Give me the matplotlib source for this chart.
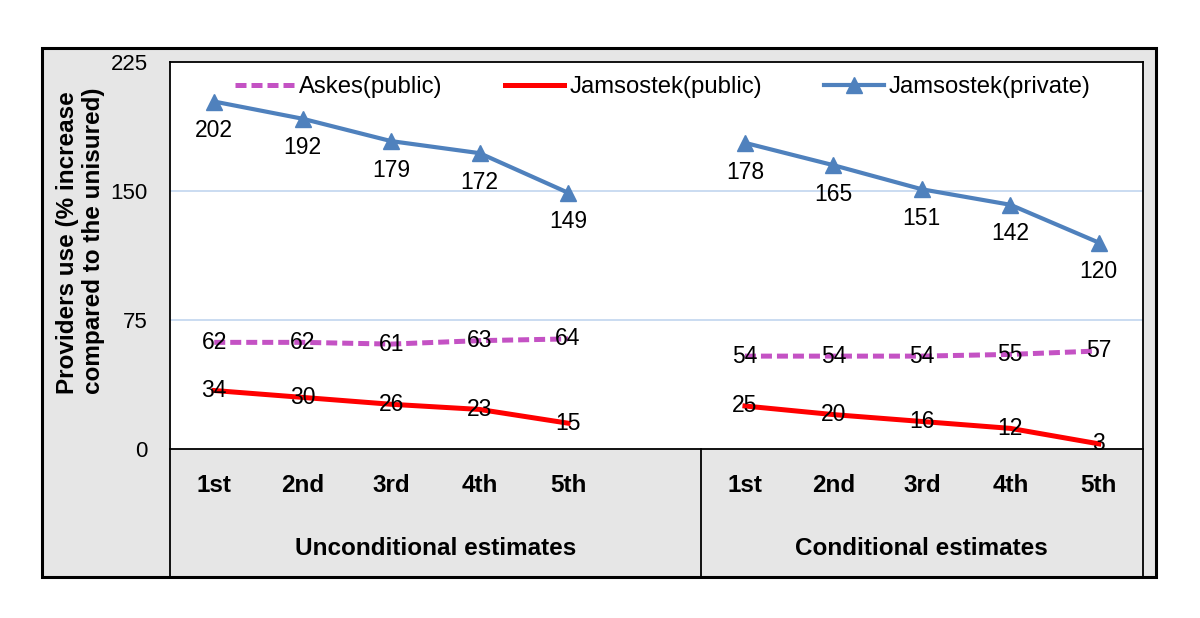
import matplotlib.pyplot as plt
from matplotlib.patches import Rectangle
from matplotlib.lines import Line2D
import matplotlib.transforms as mtransforms

plt.rcParams['font.family'] = ['Liberation Sans', 'DejaVu Sans']

# data (index 5 is the empty gap between the two groups)
quintiles = ['1st', '2nd', '3rd', '4th', '5th']
groups = ['Unconditional estimates', 'Conditional estimates']
askes_public = [62, 62, 61, 63, 64, 54, 54, 54, 55, 57]
jams_public = [34, 30, 26, 23, 15, 25, 20, 16, 12, 3]
jams_private = [202, 192, 179, 172, 149, 178, 165, 151, 142, 120]
yticks = [0, 75, 150, 225]
ylabel_lines = ['Providers use (% increase', 'compared to the unisured)']

W, H = 1200, 618
fig = plt.figure(figsize=(W / 100, H / 100), dpi=100)
fig.patch.set_facecolor('white')

# gray chart area with black frame
frame = Rectangle((42 / W, 1 - 577 / H), (1156 - 42) / W, (577 - 48) / H,
                  transform=fig.transFigure, facecolor='#e6e6e6',
                  edgecolor='black', lw=2.2, zorder=-1)
fig.add_artist(frame)

ax = fig.add_axes([170 / W, 1 - 449 / H, 973 / W, 387 / H])
ax.set_facecolor('white')

xs_a = list(range(5))
xs_b = list(range(6, 11))
fs = 16.5
fs_bold = 17.5

blue = '#4f81bd'
red = '#ff0000'
pink = '#c452c4'
dash = (2.2, 1.0)

for xs, sl in [(xs_a, slice(0, 5)), (xs_b, slice(5, 10))]:
    ax.plot(xs, askes_public[sl], color=pink, lw=3.6, dashes=dash, zorder=3)
    ax.plot(xs, jams_public[sl], color=red, lw=3.6, zorder=3)
    ax.plot(xs, jams_private[sl], color=blue, lw=3, marker='^',
            markersize=11, zorder=3)

xs_all = xs_a + xs_b
for x, v in zip(xs_all, askes_public):
    ax.text(x, v, str(v), ha='center', va='center', fontsize=fs, zorder=4)
for x, v in zip(xs_all, jams_public):
    ax.text(x, v, str(v), ha='center', va='center', fontsize=fs, zorder=4)
for x, v in zip(xs_all, jams_private):
    ax.annotate(str(v), (x, v), xytext=(0, -21), textcoords='offset points',
                ha='center', va='center', fontsize=fs, zorder=4)

ax.set_xlim(-0.5, 10.5)
ax.set_ylim(0, 225)
ax.set_yticks(yticks)
ax.set_yticklabels([str(t) for t in yticks], fontsize=16)
ax.tick_params(axis='y', length=0, pad=16)
ax.set_xticks([])
for t in [75, 150]:
    ax.axhline(t, color='#c6d9f0', lw=1.3, zorder=1)
for s in ax.spines.values():
    s.set_linewidth(1.3)
    s.set_color('black')

# two-line y axis title
fig.text(68 / W, 1 - 243 / H, ylabel_lines[0], rotation=90, ha='center',
         va='center', fontsize=fs_bold, fontweight='bold')
fig.text(94 / W, 1 - 241 / H, ylabel_lines[1], rotation=90, ha='center',
         va='center', fontsize=fs_bold, fontweight='bold')

# category axis below the plot
trans = mtransforms.blended_transform_factory(ax.transData, ax.transAxes)
for i, x in enumerate(xs_all):
    ax.text(x, -0.0956, quintiles[i % 5], transform=trans, ha='center',
            va='center', fontsize=fs_bold, fontweight='bold')
ax.text(2.5, -0.256, groups[0], transform=trans, ha='center', va='center',
        fontsize=fs_bold, fontweight='bold')
ax.text(8, -0.256, groups[1], transform=trans, ha='center', va='center',
        fontsize=fs_bold, fontweight='bold')
for xv in [-0.5, 5.5, 10.5]:
    ax.plot([xv, xv], [0, -0.331], transform=trans, color='black', lw=1.3,
            clip_on=False)

handles = [
    Line2D([], [], color=pink, lw=3.6, dashes=dash),
    Line2D([], [], color=red, lw=3.6),
    Line2D([], [], color=blue, lw=3, marker='^', markersize=11),
]
ax.legend(handles, ['Askes(public)', 'Jamsostek(public)', 'Jamsostek(private)'],
          loc='upper center', bbox_to_anchor=(0.5 + 6 / 973, 1.0), ncol=3,
          frameon=False, fontsize=17.2, handlelength=2.5, columnspacing=2.6,
          handletextpad=0.2, borderaxespad=0.2)

fig.savefig('out.png', dpi=100)
